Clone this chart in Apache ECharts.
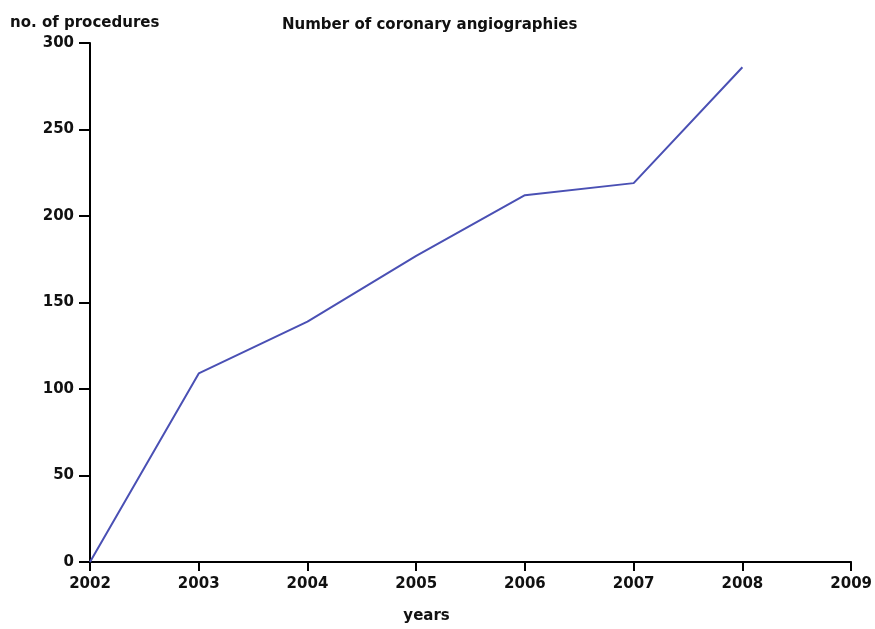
<!DOCTYPE html>
<html><head><meta charset="utf-8">
<script src="https://cdn.jsdelivr.net/npm/echarts@6/dist/echarts.min.js"></script>
<style>html,body{margin:0;padding:0;background:#fff}#c{width:875px;height:629px}</style>
</head><body><div id="c"></div>
<script>
var years = [2002, 2003, 2004, 2005, 2006, 2007, 2008];
var procedures = [0, 109, 139, 177, 212, 219, 286];
var titleText = 'Number of coronary angiographies';
var yName = 'no. of procedures';
var xName = 'years';

var chart = echarts.init(document.getElementById('c'));
var font = 'DejaVu Sans, Verdana, sans-serif';
var fs = 15;
var fw = 'bold';
chart.setOption({
  animation: false,
  title: {text: titleText, left: 277, top: 13, textStyle: {fontFamily: font, fontSize: fs, fontWeight: fw, color: '#111'}},
  grid: {left: 90, right: 19, top: 43, bottom: 60, containLabel: false},
  xAxis: {
    type: 'value', min: 2002, max: 2009, interval: 1,
    name: xName, nameLocation: 'middle', nameGap: 47,
    nameTextStyle: {fontFamily: font, fontSize: fs, fontWeight: fw, color: '#111', padding: [0, 88, 0, 0]},
    axisLine: {lineStyle: {color: '#000', width: 2}},
    axisTick: {show: true, inside: false, length: 9, lineStyle: {color: '#000', width: 2}},
    axisLabel: {fontFamily: font, fontSize: fs, fontWeight: fw, color: '#111', margin: 15, formatter: function(v){return String(v);}},
    splitLine: {show: false}
  },
  yAxis: {
    type: 'value', min: 0, max: 300, interval: 50,
    name: yName, nameLocation: 'end', nameGap: 12,
    nameTextStyle: {fontFamily: font, fontSize: fs, fontWeight: fw, color: '#111', align: 'left', padding: [0, 0, 0, -80]},
    axisLine: {show: true, lineStyle: {color: '#000', width: 2}},
    axisTick: {show: true, inside: false, length: 11, lineStyle: {color: '#000', width: 2}},
    axisLabel: {fontFamily: font, fontSize: fs, fontWeight: fw, color: '#111', margin: 16},
    splitLine: {show: false}
  },
  series: [{
    type: 'line',
    data: years.map(function(y, i){return [y, procedures[i]];}),
    showSymbol: false,
    lineStyle: {color: '#4a50b4', width: 2},
    itemStyle: {color: '#4a50b4'}
  }]
});
</script></body></html>
